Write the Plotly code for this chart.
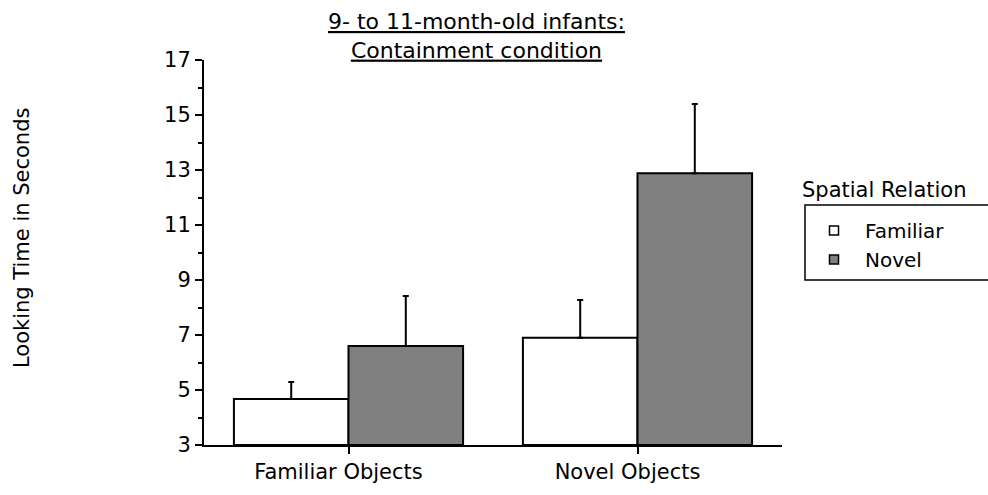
import plotly.graph_objects as go

categories = ["Familiar Objects", "Novel Objects"]
series_names = ["Familiar", "Novel"]
familiar_vals = [4.67, 6.90]
familiar_err = [0.62, 1.37]
novel_vals = [6.60, 12.88]
novel_err = [1.82, 2.52]
y_ticks = [3, 5, 7, 9, 11, 13, 15, 17]

FONT = "DejaVu Sans"
L, R, T, B = 204, 206, 60, 50
W, H = 988, 495
PW, PH = W - L - R, H - T - B

def px2paper_x(px):
    return (px - L) / PW

def px2paper_y(py):
    return (H - B - py) / PH

fig = go.Figure()
colors = ["#ffffff", "#808080"]
for name, vals, errs, color in [
    (series_names[0], familiar_vals, familiar_err, colors[0]),
    (series_names[1], novel_vals, novel_err, colors[1]),
]:
    fig.add_trace(go.Bar(
        name=name, x=categories, y=[v - 3 for v in vals], base=3,
        marker=dict(color=color, line=dict(color="black", width=2)),
        error_y=dict(type="data", symmetric=False, array=errs,
                     arrayminus=[0] * len(errs), color="black",
                     thickness=2, width=3),
        showlegend=False, hoverinfo="skip",
    ))
# legend-only entries with small square swatches
for name, color in zip(series_names, colors):
    fig.add_trace(go.Scatter(
        name=name, x=[None], y=[None], mode="markers",
        marker=dict(symbol="square", size=9, color=color,
                    line=dict(color="black", width=1.5)),
        showlegend=True,
    ))

fig.update_layout(
    width=W, height=H,
    margin=dict(l=L, r=R, t=T, b=B, autoexpand=False),
    paper_bgcolor="white", plot_bgcolor="white",
    barmode="group", bargap=0.207, bargroupgap=0,
    font=dict(family=FONT, size=21, color="black"),
    showlegend=True,
    legend=dict(x=px2paper_x(803), y=px2paper_y(211), xanchor="left", yanchor="top",
                bgcolor="rgba(0,0,0,0)", borderwidth=0,
                font=dict(family=FONT, size=20), itemwidth=52,
                tracegroupgap=0),
    xaxis=dict(range=[-0.5, 1.5], showline=True, linecolor="black", linewidth=2,
               ticks="outside", ticklen=7, tickwidth=1.5, tickcolor="black",
               tickfont=dict(family=FONT, size=21), showgrid=False, zeroline=False,
               ticklabelshift=-10),
    yaxis=dict(range=[3, 17], tickvals=y_ticks, showline=True, linecolor="black",
               linewidth=2, ticks="outside", ticklen=7, tickwidth=1.5, tickcolor="black",
               tickfont=dict(family=FONT, size=21), showgrid=False, zeroline=False,
               minor=dict(dtick=1, ticks="outside", ticklen=4, tickwidth=1.5,
                          tickcolor="black", showgrid=False)),
    annotations=[
        dict(text="<u>9- to 11-month-old infants:</u><br><u>Containment condition</u>",
             x=px2paper_x(476), y=px2paper_y(36), xref="paper", yref="paper",
             xanchor="center", yanchor="middle", showarrow=False,
             font=dict(family=FONT, size=22)),
        dict(text="Looking Time in Seconds", textangle=-90,
             x=px2paper_x(22), y=px2paper_y(238), xref="paper", yref="paper",
             xanchor="center", yanchor="middle", showarrow=False,
             font=dict(family=FONT, size=21)),
        dict(text="Spatial Relation",
             x=px2paper_x(800), y=px2paper_y(190), xref="paper", yref="paper",
             xanchor="left", yanchor="middle", showarrow=False,
             font=dict(family=FONT, size=21)),
    ],
    shapes=[
        dict(type="rect", xref="paper", yref="paper",
             x0=px2paper_x(805), x1=px2paper_x(1000),
             y0=px2paper_y(280), y1=px2paper_y(205),
             line=dict(color="black", width=1.5), fillcolor="rgba(0,0,0,0)"),
    ],
)

fig.write_html("out.html",
               config={"displayModeBar": False},
               post_script="document.body.style.margin='0';document.body.style.padding='0';")
